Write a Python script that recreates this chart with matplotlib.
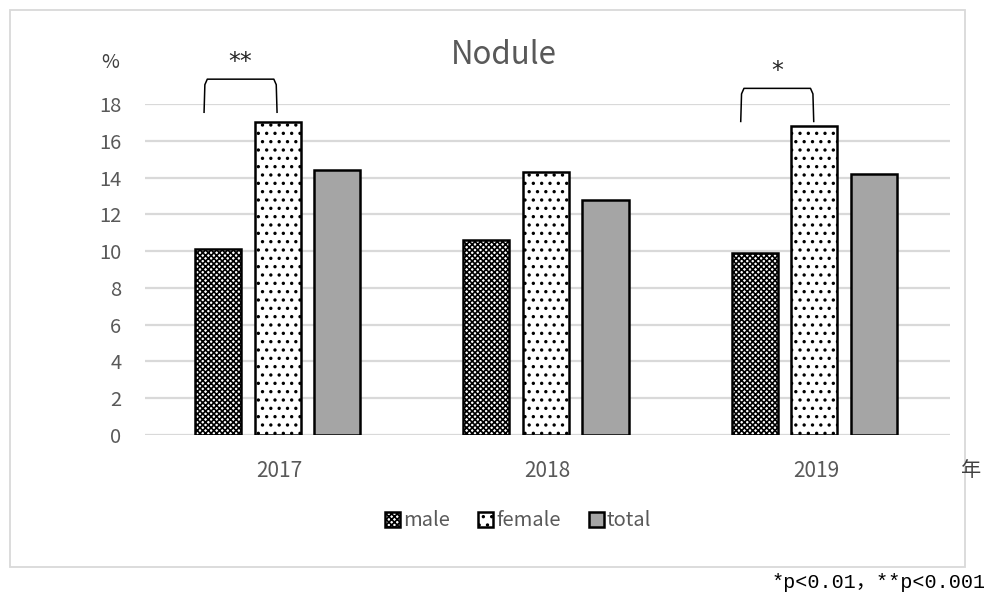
import numpy as np
import matplotlib
matplotlib.use("Agg")
import matplotlib.pyplot as plt
from matplotlib.patches import Patch, Rectangle

plt.rcParams['font.family'] = ['Noto Sans CJK JP', 'DejaVu Sans']
plt.rcParams['hatch.linewidth'] = 1.2

# data
years = ['2017', '2018', '2019']
male = [10.1, 10.6, 9.9]
female = [17.0, 14.3, 16.8]
total = [14.4, 12.8, 14.2]
series_names = ['male', 'female', 'total']
# significance marks: (year index, stars, bracket level)
sig_marks = [(0, '**', 19.35), (2, '*', 18.85)]
footnote = '*p<0.01，**p<0.001'

fig = plt.figure(figsize=(9.92, 5.98), dpi=100)
ax = fig.add_axes([0.1462, 0.2726, 0.8115, 0.5535])

# outer chart frame
fig.patches.append(Rectangle((10 / 992, 1 - 567 / 598), 955 / 992, 557 / 598,
                             transform=fig.transFigure, fill=False,
                             edgecolor='#d9d9d9', lw=1.3))

x = np.arange(len(years))
w = 0.172
step = 0.222
styles = [
    dict(facecolor='white', hatch='xxxxxx', edgecolor='black'),
    dict(facecolor='white', hatch='..', edgecolor='black'),
    dict(facecolor='#a5a5a5', hatch=None, edgecolor='black'),
]
for i, vals in enumerate([male, female, total]):
    ax.bar(x + (i - 1) * step - 0.006, vals, width=w, linewidth=1.8, zorder=3,
           label=series_names[i], **styles[i])

ax.set_xlim(-0.5, 2.5)
ax.set_ylim(0, 18)
ax.set_yticks(np.arange(0, 19, 2))
ax.yaxis.grid(True, color='#d9d9d9', lw=1.6, zorder=0)
ax.set_axisbelow(True)
for s in ax.spines.values():
    s.set_visible(False)
ax.tick_params(length=0, colors='#595959', labelsize=14.5)
ax.tick_params(axis='y', pad=17)
ax.tick_params(axis='x', labelsize=15, pad=18)
ax.set_xticks(x)
ax.set_xticklabels(years)

fig.text(110 / 992, 1 - 62 / 598, '%', ha='center', va='center',
         fontsize=14, color='#404040')
fig.text(504 / 992, 1 - 55 / 598, 'Nodule', ha='center', va='center',
         fontsize=22.5, color='#595959')
fig.text(971 / 992, 1 - 470 / 598, '年', ha='center', va='center',
         fontsize=14.5, color='#404040')
fig.text(986 / 992, 1 - 582 / 598, footnote, ha='right', va='center',
         fontsize=14.5, color='black', family=['Liberation Mono', 'Noto Sans CJK JP'])

# significance brackets
for idx, stars, top in sig_marks:
    x0 = idx - 0.28
    x1 = idx - 0.008
    bottom = top - 1.8
    r = 0.012
    ax.plot([x0, x0 + 0.003, x0 + r, x1 - r, x1 - 0.003, x1],
            [bottom, top - 0.3, top, top, top - 0.3, bottom],
            color='black', lw=1.1, clip_on=False, zorder=4)
    ax.text((x0 + x1) / 2, top + 0.95, stars, ha='center', va='center',
            fontsize=17, color='#262626', clip_on=False,
            family=['DejaVu Sans'])

handles = [Patch(label=series_names[i], linewidth=1.8, **styles[i]) for i in range(3)]
fig.legend(handles=handles, loc='center', bbox_to_anchor=(518 / 992, 1 - 521 / 598),
           ncol=3, frameon=False, fontsize=14.5, handlelength=0.75, handleheight=0.75,
           handletextpad=0.15, columnspacing=1.4, labelcolor='#595959')

fig.savefig('out.png', dpi=100)
